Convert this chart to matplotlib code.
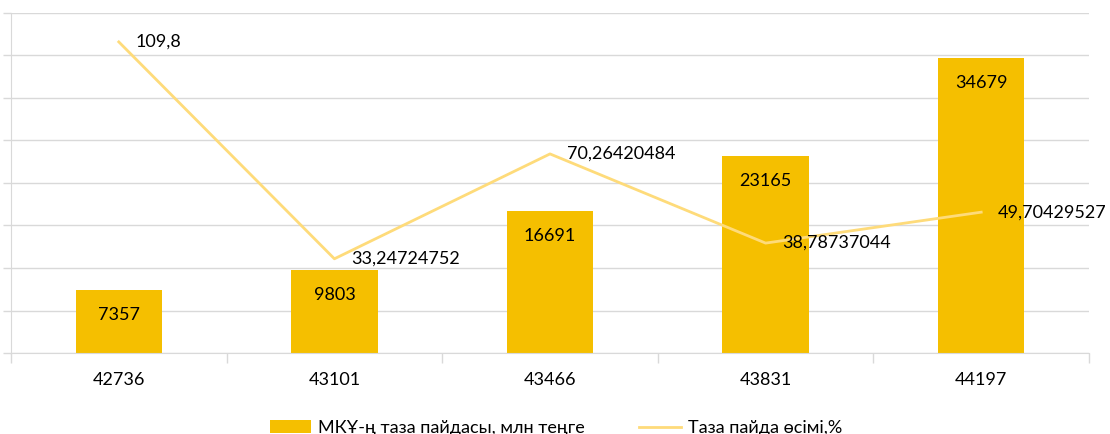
import matplotlib
matplotlib.use("Agg")
import matplotlib.pyplot as plt
import numpy as np

categories = ["42736", "43101", "43466", "43831", "44197"]
profit = [7357, 9803, 16691, 23165, 34679]
growth = [109.8, 33.24724752, 70.26420484, 38.78737044, 49.70429527]
bar_label = "МКҰ-ң таза пайдасы, млн теңге"
line_label = "Таза пайда өсімі,%"

plt.rcParams['font.family'] = ['Lato', 'DejaVu Sans']
FS = 13
bar_color = "#F5BF00"
line_color = "#FEDB7A"
grid_color = "#D9D9D9"

fig = plt.figure(figsize=(11.10, 4.34), dpi=100)
ax = fig.add_axes([11/1110, 1-353/434, 1078/1110, 340/434])
x = np.arange(len(categories))

ax.set_ylim(0, 40000)
ax.set_yticks(np.arange(0, 40001, 5000))
ax.set_yticklabels([])
ax.grid(axis='y', color=grid_color, linewidth=1)
ax.set_axisbelow(True)
ax.set_xlim(-0.5, len(categories) - 0.5)

bars = ax.bar(x, profit, width=0.4, color=bar_color, zorder=2)
for xi, v in zip(x, profit):
    ax.annotate(str(v), (xi, v), xytext=(0, -25), textcoords='offset pixels',
                ha='center', va='center', fontsize=FS, color='black', zorder=5)

for s in ['top', 'right']:
    ax.spines[s].set_visible(False)
ax.spines['left'].set_color(grid_color)
ax.spines['bottom'].set_color(grid_color)
ax.tick_params(axis='y', length=6, color=grid_color, width=1)
ax.set_xticks(x)
ax.set_xticklabels(categories, fontsize=FS)
ax.tick_params(axis='x', which='major', length=0, pad=14)
ax.set_xticks(np.arange(-0.5, len(categories)), minor=True)
ax.tick_params(axis='x', which='minor', length=7, color=grid_color, width=1)

ax2 = ax.twinx()
ax2.set_ylim(0, 120)
ax2.axis('off')
line, = ax2.plot(x, growth, color=line_color, linewidth=2, zorder=3)
for xi, v in zip(x, growth):
    ax2.annotate(str(v).replace('.', ','), (xi, v), xytext=(17, 0), textcoords='offset pixels',
                 ha='left', va='center', fontsize=FS, color='black', zorder=5)

fig.legend([bars, line], [bar_label, line_label], loc='center', bbox_to_anchor=(556/1110, 1-428/434),
           ncol=2, frameon=False, fontsize=FS, handlelength=2.3, handleheight=0.7,
           columnspacing=3.0, handletextpad=0.4)

fig.savefig("out.png", dpi=100)
